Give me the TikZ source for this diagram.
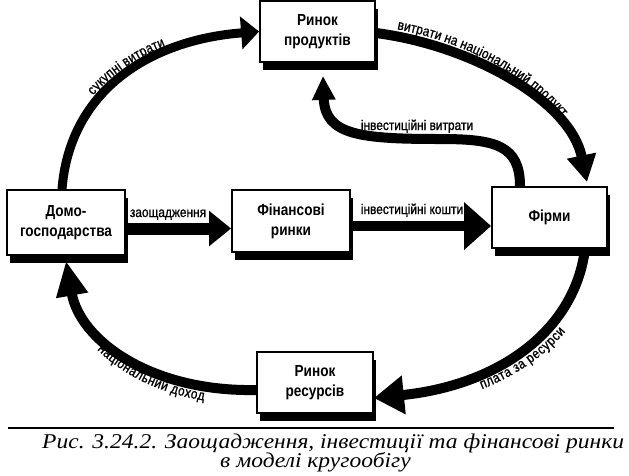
\documentclass[tikz,border=0pt]{standalone}
\usepackage{fontspec}
\setmainfont{Liberation Serif}
\newfontfamily\boxfont{Liberation Sans}[FakeStretch=0.85]
\newfontfamily\lblfont{Liberation Sans}[FakeStretch=0.85,FakeBold=1]
\newfontfamily\capfont{Liberation Serif}[FakeStretch=1.12]
\newcommand\boxset{\boxfont\bfseries\fontsize{16pt}{20pt}\selectfont}
\newcommand\lblset{\lblfont\fontsize{14pt}{16pt}\selectfont}
\newcommand\capset{\capfont\itshape\fontsize{21pt}{24pt}\selectfont}
\usetikzlibrary{arrows.meta,shadows,decorations.text,calc}
\tikzset{
  box/.style={draw, line width=1.8pt, fill=white, align=center, font=\boxset, inner sep=0pt,
    drop shadow={shadow xshift=3pt, shadow yshift=-8pt, fill=black, opacity=1}},
  flow/.style={draw=black, line width=10pt},
  lbl/.style={font=\lblset, inner sep=0pt},
  capstyle/.style={font=\capset, inner sep=0pt}
}
\begin{document}
\begin{tikzpicture}[x=1pt,y=-1pt]
\useasboundingbox (0,0) rectangle (629,475);
\fill[white] (0,0) rectangle (629,475);
% boxes
\node[box, minimum width=115pt, minimum height=61pt] (prod) at (317.5,31.5) {Ринок\\продуктів};
\node[box, minimum width=118pt, minimum height=65pt] (dom) at (66,222.5) {Домо-\\господарства};
\node[box, minimum width=118pt, minimum height=62pt] (fin) at (291,221) {Фінансові\\ринки};
\node[box, minimum width=115pt, minimum height=61pt] (firms) at (549.5,217.5) {Фірми};
\node[box, minimum width=116pt, minimum height=61pt] (res) at (315,382.5) {Ринок\\ресурсів};
% connector end points
\coordinate (a1s) at ([xshift=-4pt]dom.north);
\coordinate (a1e) at (prod.west);
\coordinate (a2s) at ([yshift=-1.5pt]prod.east);
\coordinate (a2e) at ([xshift=37.5pt,yshift=4pt]firms.north);
\coordinate (a3s) at ([xshift=-29.5pt]firms.north);
\coordinate (a3e) at ([xshift=5.5pt,yshift=-13pt]prod.south);
\coordinate (a4s) at ([yshift=-6pt]dom.east);
\coordinate (a4e) at (a4s -| fin.west);
\coordinate (a5s) at ([yshift=-5pt]fin.east);
\coordinate (a5e) at (a5s -| firms.west);
\coordinate (a6s) at ([xshift=35.5pt]firms.south);
\coordinate (a6e) at ([yshift=-15.5pt]res.east);
\coordinate (a7s) at ([yshift=-7.5pt]res.west);
\coordinate (a7e) at ([yshift=-5pt]dom.south);
% arrows
\draw[flow, line width=9pt, -{Triangle[length=18pt,width=32pt]}] (a1s) .. controls (70,90) and (150,40) .. (a1e);
\draw[flow, -{Triangle[length=27pt,width=28pt]}] (a2s) .. controls (470,45) and (570,100) .. (a2e);
\draw[flow, -{Triangle[length=24pt,width=22pt]}] (a3s) .. controls (520,145) and (495,139) .. (440,139) .. controls (360,139) and (325,135) .. (a3e);
\draw[flow, line width=12pt, -{Triangle[length=22pt,width=34pt]}] (a4s) -- (a4e);
\draw[flow, -{Triangle[length=27pt,width=46pt]}] (a5s) -- (a5e);
\draw[flow, -{Triangle[length=30pt,width=37pt]}] (a6s) .. controls (575,330) and (500,385) .. (a6e);
\draw[flow, -{Triangle[length=35pt,width=30pt]}] (a7s) .. controls (150,392) and (80,340) .. (a7e);
% curved labels
\path[decorate, decoration={text along path, text={|\lblset|сукупні витрати}, raise=6pt, text align={left indent=98pt}}]
  (a1s) .. controls (70,90) and (150,40) .. (a1e);
\path[decorate, decoration={text along path, text={|\lblset|витрати на національний продукт}, raise=7pt, text align={left indent=20pt}}]
  (a2s) .. controls (470,45) and (570,100) .. (a2e);
\path[decorate, decoration={text along path, text={|\lblset|плата за ресурси}, raise=-16pt, text align={left indent=105pt}}]
  (a6e) .. controls (500,385) and (575,330) .. (a6s);
\path[decorate, decoration={text along path, text={|\lblset|національний доход}, raise=-14pt, text align={left indent=90pt}}]
  (a7e) .. controls (80,340) and (150,392) .. (a7s);
% straight labels
\node[lbl, anchor=base] (l4) at (168,217) {заощадження};
\node[lbl, anchor=base] (l5) at (412,214) {інвестиційні кошти};
\node[lbl, anchor=base] (l3) at (417,130) {інвестиційні витрати};
% rule and caption
\coordinate (ruleL) at (8,428);
\coordinate (ruleR) at (614,428);
\draw[line width=2.4pt] (ruleL) -- (ruleR);
\node[capstyle, anchor=base west] (cap1) at (42,448) {Рис. 3.24.2. Заощадження, інвестиції та фінансові ринки};
\node[capstyle, anchor=base west] (cap2) at (220,467) {в моделі кругообігу};
\end{tikzpicture}
\end{document}
